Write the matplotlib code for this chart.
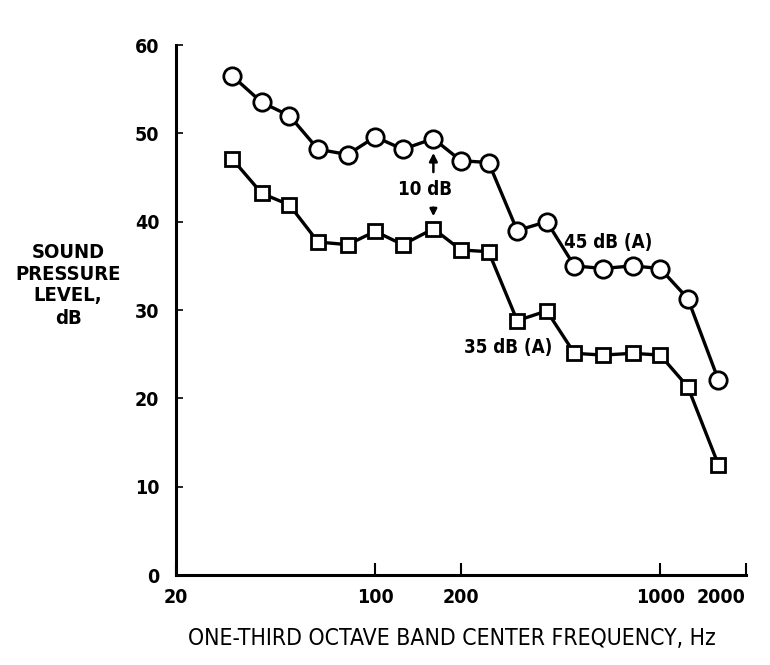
import matplotlib
matplotlib.use("Agg")
import matplotlib.pyplot as plt

freqs = [31.5, 40, 50, 63, 80, 100, 125, 160, 200, 250, 315, 400, 500, 630, 800, 1000, 1250, 1600]
spl_45dBA = [56.5, 53.5, 52.0, 48.2, 47.6, 49.6, 48.2, 49.4, 46.9, 46.7, 39.0, 40.0, 35.0, 34.7, 35.0, 34.7, 31.3, 22.1]
spl_35dBA = [47.1, 43.2, 41.9, 37.7, 37.4, 38.9, 37.4, 39.2, 36.8, 36.6, 28.8, 29.9, 25.1, 24.9, 25.1, 24.9, 21.3, 12.5]
xticks = [20, 100, 200, 1000, 2000]
yticks = [0, 10, 20, 30, 40, 50, 60]

plt.rcParams['font.family'] = ['DejaVu Sans']
plt.rcParams['font.stretch'] = 'condensed'

fig = plt.figure(figsize=(7.7, 6.65), dpi=100)
ax = fig.add_axes([0.2286, 0.1353, 0.7402, 0.797])

ax.plot(freqs, spl_45dBA, color='black', lw=2.4, marker='o', ms=12.5,
        mfc='white', mec='black', mew=2.0, zorder=3)
ax.plot(freqs, spl_35dBA, color='black', lw=2.4, marker='s', ms=10.5,
        mfc='white', mec='black', mew=2.0, zorder=3)

ax.set_xscale('log')
ax.set_xlim(20, 2000)
ax.set_ylim(0, 60)
ax.set_xticks(xticks)
ax.set_xticklabels([str(v) for v in xticks])
ax.xaxis.set_minor_locator(matplotlib.ticker.NullLocator())
ax.set_yticks(yticks)
ax.set_yticklabels([str(v) for v in yticks])

for s in ['top', 'right']:
    ax.spines[s].set_visible(False)
for s in ['left', 'bottom']:
    ax.spines[s].set_linewidth(2.2)

ax.tick_params(axis='x', direction='in', length=9, width=1.5, labelsize=14, pad=9)
ax.tick_params(axis='y', direction='in', length=5, width=1.2, labelsize=14, pad=12)
for lab in ax.get_xticklabels() + ax.get_yticklabels():
    lab.set_fontweight('bold')
    lab.set_fontstretch('condensed')
ax.get_xticklabels()[-1].set_horizontalalignment('right')

ax.text(150, 43.6, '10 dB', fontsize=13.5, fontweight='bold', ha='center', va='center')
ax.annotate('', xy=(160, 48.1), xytext=(160, 45.3),
            arrowprops=dict(arrowstyle='-|>', color='black', lw=1.8, mutation_scale=12))
ax.annotate('', xy=(160, 40.3), xytext=(160, 41.9),
            arrowprops=dict(arrowstyle='-|>', color='black', lw=1.8, mutation_scale=10))

ax.text(458, 37.6, '45 dB (A)', fontsize=13.5, fontweight='bold', ha='left', va='center')
ax.text(205, 25.8, '35 dB (A)', fontsize=13.5, fontweight='bold', ha='left', va='center')

fig.text(68 / 770, 1 - 285 / 665, 'SOUND\nPRESSURE\nLEVEL,\ndB', fontsize=14.5,
         fontweight='bold', ha='center', va='center', linespacing=1.2)
fig.text(452 / 770, 1 - 638 / 665, 'ONE-THIRD OCTAVE BAND CENTER FREQUENCY, Hz',
         fontsize=16.5, ha='center', va='center')

fig.savefig('out.png', dpi=100)
